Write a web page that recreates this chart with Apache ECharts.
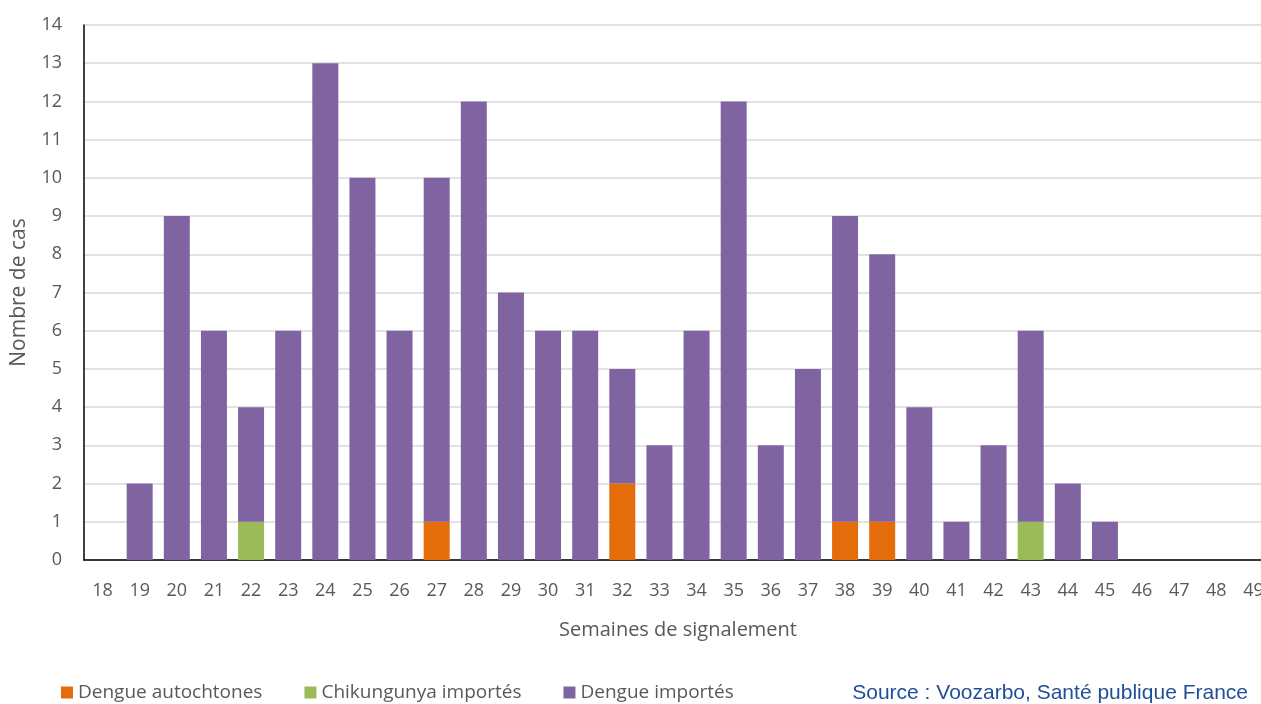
<!DOCTYPE html>
<html>
<head>
<meta charset="utf-8">
<script src="https://cdn.jsdelivr.net/npm/echarts@6/dist/echarts.min.js"></script>
<style>
  html, body { margin: 0; padding: 0; background: #fff; }
  #chart { width: 1261px; height: 704px; }
</style>
</head>
<body>
<div id="chart"></div>
<script>
// semaines 18 a 49
const weeks = ['18', '19', '20', '21', '22', '23', '24', '25', '26', '27', '28', '29', '30', '31', '32', '33',
  '34', '35', '36', '37', '38', '39', '40', '41', '42', '43', '44', '45', '46', '47', '48', '49']
const dengueAutochtones = [0, 0, 0, 0, 0, 0, 0, 0, 0, 1, 0, 0, 0, 0, 2, 0,
  0, 0, 0, 0, 1, 1, 0, 0, 0, 0, 0, 0, 0, 0, 0, 0]
const chikungunyaImportes = [0, 0, 0, 0, 1, 0, 0, 0, 0, 0, 0, 0, 0, 0, 0, 0,
  0, 0, 0, 0, 0, 0, 0, 0, 0, 1, 0, 0, 0, 0, 0, 0]
const dengueImportes = [0, 2, 9, 6, 3, 6, 13, 10, 6, 9, 12, 7, 6, 6, 3, 3,
  6, 12, 3, 5, 8, 7, 4, 1, 3, 5, 2, 1, 0, 0, 0, 0]

const font = 'Open Sans'
const grey = '#595959'

const chart = echarts.init(document.getElementById('chart'))

const bar = (name, data, color) => ({
  name,
  type: 'bar',
  stack: 'cas',
  data,
  barWidth: '70%',
  itemStyle: { color },
  emphasis: { disabled: true }
})

chart.setOption({
  animation: false,
  textStyle: { fontFamily: font },
  grid: { left: 84, right: -11, top: 25, bottom: 144, outerBoundsMode: 'none' },
  legend: {
    left: 56,
    bottom: -3,
    itemWidth: 12,
    itemHeight: 12,
    itemGap: 42,
    icon: 'rect',
    textStyle: { fontFamily: font, fontSize: 19, color: grey },
    data: ['Dengue autochtones', 'Chikungunya importés', 'Dengue importés']
  },
  xAxis: {
    type: 'category',
    data: weeks,
    name: 'Semaines de signalement',
    nameLocation: 'middle',
    nameGap: 60,
    nameTextStyle: { fontSize: 20, color: grey },
    axisLine: { lineStyle: { color: '#000', width: 1.5 } },
    axisTick: { show: false },
    axisLabel: { color: grey, fontSize: 18, margin: 22, interval: 0 }
  },
  yAxis: {
    type: 'value',
    min: 0,
    max: 14,
    interval: 1,
    name: 'Nombre de cas',
    nameLocation: 'middle',
    nameGap: 54,
    nameTextStyle: { fontSize: 21, color: grey },
    axisLine: { show: true, lineStyle: { color: '#000', width: 1.5 } },
    axisTick: { show: false },
    axisLabel: { color: grey, fontSize: 18, margin: 22 },
    splitLine: { lineStyle: { color: '#d9d9d9', width: 1.5 } }
  },
  graphic: [{
    type: 'text',
    right: 13,
    bottom: 0,
    style: {
      text: 'Source : Voozarbo, Santé publique France',
      fontFamily: 'Liberation Sans',
      fontSize: 21,
      fill: '#1f4e9a'
    }
  }],
  series: [
    bar('Dengue autochtones', dengueAutochtones, '#e46c0a'),
    bar('Chikungunya importés', chikungunyaImportes, '#9bbb59'),
    bar('Dengue importés', dengueImportes, '#8064a2')
  ]
})
</script>
</body>
</html>
